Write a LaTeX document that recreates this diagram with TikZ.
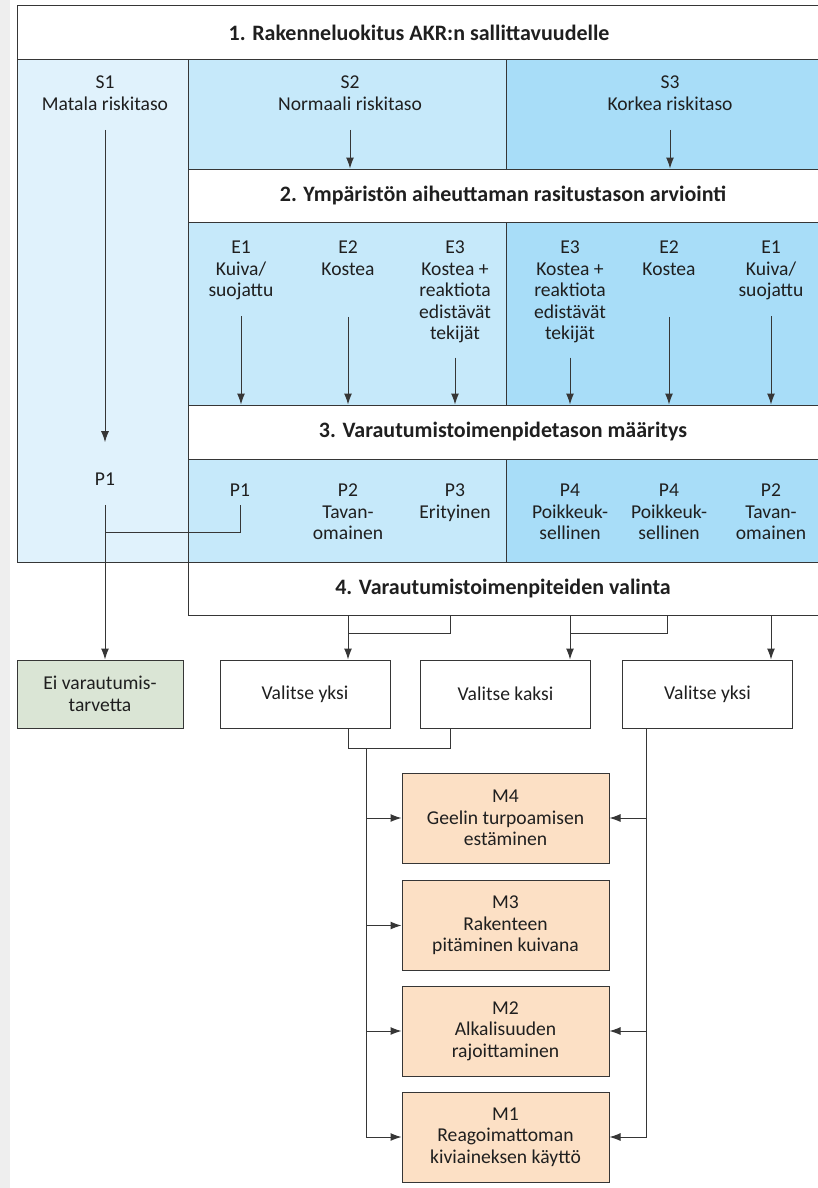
\documentclass[tikz,border=0pt]{standalone}
\usepackage{fontspec}
\setmainfont{Carlito}
\usetikzlibrary{arrows.meta}
\definecolor{riskLow}{HTML}{E0F2FC}
\definecolor{riskMid}{HTML}{C6E9FA}
\definecolor{riskHigh}{HTML}{A8DDF8}
\definecolor{noneGreen}{HTML}{DAE5D5}
\definecolor{measurePeach}{HTML}{FCE0C5}
\definecolor{pageGray}{HTML}{EEEEEE}
\definecolor{ink}{HTML}{363636}
\tikzstyle{cell text}=[inner sep=0pt, align=center, text=black!88, font=\fontsize{19.6}{21.5}\selectfont]
\tikzstyle{head text}=[cell text, font=\fontsize{22}{24}\selectfont\bfseries, minimum height=53pt]
\tikzstyle{rule line}=[draw=ink]
\tikzstyle{choice box}=[cell text, draw=ink, fill=white, minimum width=170pt, minimum height=68pt]
\tikzstyle{measure box}=[choice box, fill=measurePeach, minimum width=207pt, minimum height=90pt]

\begin{document}
\begin{tikzpicture}[x=1pt,y=-1pt,color=ink,line width=1pt,>={Latex[length=11pt,width=8pt]}]
    \useasboundingbox (0,0) rectangle (818,1188);
    \fill[pageGray] (0,0) rectangle (10,1188);

    % Risk areas
    \fill[riskLow] (17,60) rectangle (188,562);
    \fill[riskMid] (188,60) rectangle (506,169);
    \fill[riskHigh] (506,60) rectangle (818,169);
    \fill[riskMid] (188,222) rectangle (506,405);
    \fill[riskHigh] (506,222) rectangle (818,405);
    \fill[riskMid] (188,459) rectangle (506,562);
    \fill[riskHigh] (506,459) rectangle (818,562);

    % Table rules
    \draw[rule line] (818,6) -- (17,6) -- (17,562) -- (818,562);
    \draw[rule line] (17,60) -- (818,60);
    \draw[rule line] (188,60) -- (188,615) -- (818,615);
    \foreach \y in {169,222,405,459}
        \draw[rule line] (188,\y) -- (818,\y);
    \foreach \a/\b in {60/169,222/405,459/562}
        \draw[rule line] (506,\a) -- (506,\b);

    % Headings
    \node[head text, minimum height=54pt] (hdr1) at (419,33) {1. Rakenneluokitus AKR:n sallittavuudelle};
    \node[head text] (hdr2) at (503,195.5) {2. Ympäristön aiheuttaman rasitustason arviointi};
    \node[head text, minimum height=54pt] (hdr3) at (503,432) {3. Varautumistoimenpidetason määritys};
    \node[head text] (hdr4) at (503,588.5) {4. Varautumistoimenpiteiden valinta};

    % Risk levels
    \node[cell text, anchor=north] (s1) at (105,75.5) {S1\\Matala riskitaso};
    \node[cell text, anchor=north] (s2) at (350,75.5) {S2\\Normaali riskitaso};
    \node[cell text, anchor=north] (s3) at (670,75.5) {S3\\Korkea riskitaso};

    % Exposure
    \node[cell text, anchor=north] (e1a) at (241,240.5) {E1\\Kuiva/\\suojattu};
    \node[cell text, anchor=north] (e2a) at (348,240.5) {E2\\Kostea};
    \node[cell text, anchor=north] (e3a) at (455,240.5) {E3\\Kostea +\\reaktiota\\edistävät\\tekijät};
    \node[cell text, anchor=north] (e3b) at (570,240.5) {E3\\Kostea +\\reaktiota\\edistävät\\tekijät};
    \node[cell text, anchor=north] (e2b) at (669,240.5) {E2\\Kostea};
    \node[cell text, anchor=north] (e1b) at (771,240.5) {E1\\Kuiva/\\suojattu};

    % Precaution levels
    \node[cell text] (pl1) at (105,479) {P1};
    \node[cell text, anchor=north] (p1a) at (240,483.5) {P1};
    \node[cell text, anchor=north] (p2a) at (348,483.5) {P2\\Tavan-\\omainen};
    \node[cell text, anchor=north] (p3a) at (455,483.5) {P3\\Erityinen};
    \node[cell text, anchor=north] (p4a) at (570,483.5) {P4\\Poikkeuk-\\sellinen};
    \node[cell text, anchor=north] (p4b) at (669,483.5) {P4\\Poikkeuk-\\sellinen};
    \node[cell text, anchor=north] (p2b) at (771,483.5) {P2\\Tavan-\\omainen};

    % Choices
    \node[choice box, fill=noneGreen, minimum width=166pt] (ei) at (100,694) {Ei varautumis-\\tarvetta};
    \node[choice box] (vy1) at (305,694) {Valitse yksi};
    \node[choice box] (vk) at (505.5,694) {Valitse kaksi};
    \node[choice box] (vy2) at (707.5,694) {Valitse yksi};

    % Measures
    \node[measure box] (m4) at (505.5,818) {M4\\Geelin turpoamisen\\estäminen};
    \node[measure box] (m3) at (505.5,925.5) {M3\\Rakenteen\\pitäminen kuivana};
    \node[measure box] (m2) at (505.5,1031) {M2\\Alkalisuuden\\rajoittaminen};
    \node[measure box] (m1) at (505.5,1137) {M1\\Reagoimattoman\\kiviaineksen käyttö};

    % Arrows in the table
    \draw[->, shorten <=19pt, shorten >=30pt] (s1) -- (pl1);
    \draw[->, shorten <=19pt] (s2) -- (s2 |- hdr2.north);
    \draw[->, shorten <=19pt] (s3) -- (s3 |- hdr2.north);
    \foreach \e/\gap in {e1a/16,e2a/41,e3a/14,e3b/14,e2b/41,e1b/16}
        \draw[->, shorten <=\gap pt] (\e) -- (\e |- hdr3.north);
    \coordinate (j0) at (105,532);
    \draw[shorten <=8pt] (p1a) |- (j0);
    \draw[->, shorten <=19pt] (pl1) -- (pl1 |- ei.north);

    % Brackets to choices
    \coordinate (b1) at (348,633);
    \coordinate (b2) at (450,633);
    \coordinate (b3) at (570,633);
    \coordinate (b4) at (667,633);
    \draw (b2 |- hdr4.south) -- (b2) -- (b1);
    \draw[->] (b1 |- hdr4.south) -- (b1 |- vy1.north);
    \draw (b4 |- hdr4.south) -- (b4) -- (b3);
    \draw[->] (b3 |- hdr4.south) -- (b3 |- vk.north);
    \draw[->] (e1b |- hdr4.south) -- (e1b |- vy2.north);

    % Choices to measures
    \coordinate (c1) at (348,748);
    \coordinate (c2) at (450,748);
    \coordinate (c3) at (366,748);
    \coordinate (c4) at (646,728);
    \draw (c1 |- vy1.south) -- (c1) -- (c2) -- (c2 |- vk.south);
    \foreach \m in {m4,m3,m2,m1}
        \draw[->] (c3) |- (\m.west);
    \foreach \m in {m4,m2,m1}
        \draw[->] (c4) |- (\m.east);
\end{tikzpicture}
\end{document}
